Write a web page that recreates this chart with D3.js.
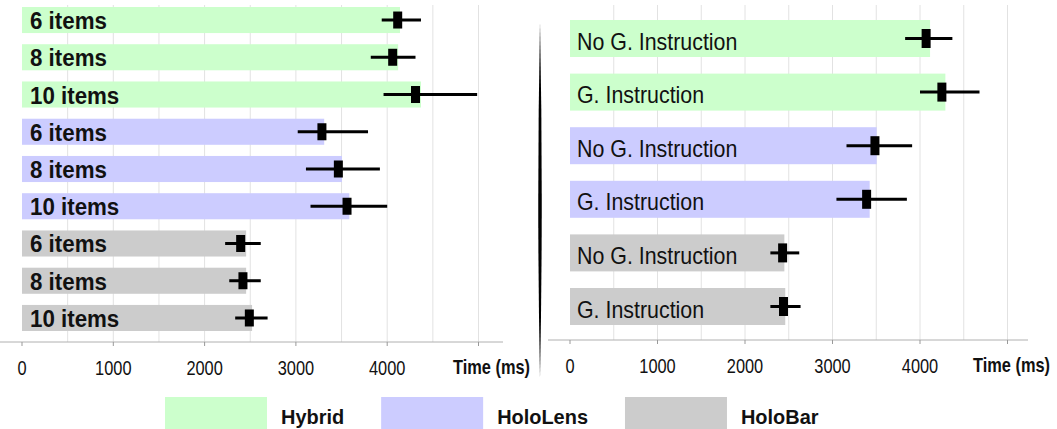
<!DOCTYPE html>
<html>
<head>
<meta charset="utf-8">
<script src="https://cdn.jsdelivr.net/npm/d3@7"></script>
<style>
  html, body { margin: 0; padding: 0; background: #fff; }
  svg { display: block; font-family: "Liberation Sans", Arial, sans-serif; }
</style>
</head>
<body>
<div class="chart"></div>
<script>
// devices / legend
const devices = ["Hybrid", "HoloLens", "HoloBar"];
const deviceColors = ["#ccffcc", "#ccccff", "#cccccc"];

// left panel: number of items
const itemLabels = ["6 items", "8 items", "10 items"];
const itemMean = [[4140, 4120, 4370], [3310, 3505, 3585], [2455, 2455, 2520]];
const itemMarker = [[4115, 4060, 4310], [3285, 3465, 3560], [2395, 2420, 2490]];
const itemLow = [[3940, 3820, 3960], [3020, 3110, 3160], [2225, 2270, 2335]];
const itemHigh = [[4370, 4310, 4985], [3790, 3920, 4000], [2615, 2615, 2690]];

// right panel: gesture instruction
const instrLabels = ["No G. Instruction", "G. Instruction"];
const instrMean = [[4115, 4290], [3505, 3425], [2450, 2460]];
const instrMarker = [[4070, 4250], [3485, 3390], [2430, 2440]];
const instrLow = [[3830, 4000], [3160, 3045], [2290, 2290]];
const instrHigh = [[4370, 4680], [3910, 3850], [2620, 2635]];

// axis
const tickValues = [0, 1000, 2000, 3000, 4000, 5000];
const tickLabels = ["0", "1000", "2000", "3000", "4000"];
const gridValues = [500, 1000, 1500, 2000, 2500, 3000, 3500, 4000, 4500, 5000];
const axisTitle = "Time (ms)";

const width = 1057, height = 429;

const svg = d3.select(".chart")
  .append("svg")
  .attr("width", width)
  .attr("height", height);

// no narrow font installed -> squeeze text horizontally
function squeeze(x, y, sx) {
  return "translate(" + x + "," + y + ") scale(" + sx + ",1)";
}

// flatten rows of a panel
function buildRows(labels, mean, marker, low, high) {
  const rows = [];
  devices.forEach((dev, di) => {
    labels.forEach((lab, li) => {
      rows.push({
        key: dev + "-" + li,
        device: di,
        label: lab,
        mean: mean[di][li],
        marker: marker[di][li],
        low: low[di][li],
        high: high[di][li]
      });
    });
  });
  return rows;
}

function drawPanel(opts) {
  const rows = buildRows(opts.labels, opts.mean, opts.marker, opts.low, opts.high);

  const x = d3.scaleLinear().domain([0, 5000]).range(opts.xRange);
  const y = d3.scaleBand()
    .domain(rows.map((d) => d.key))
    .range(opts.yRange)
    .paddingInner(opts.padding)
    .paddingOuter(opts.padding / 2);

  const g = svg.append("g");

  // grid lines
  g.selectAll(".grid")
    .data(gridValues)
    .join("line")
    .attr("x1", (d) => x(d))
    .attr("x2", (d) => x(d))
    .attr("y1", 5)
    .attr("y2", opts.axisY)
    .attr("stroke", "#e2e2e2")
    .attr("stroke-width", 1);

  // bars
  g.selectAll(".bar")
    .data(rows)
    .join("rect")
    .attr("x", x(0))
    .attr("y", (d) => y(d.key))
    .attr("width", (d) => x(d.mean) - x(0))
    .attr("height", y.bandwidth())
    .attr("fill", (d) => deviceColors[d.device]);

  // labels
  g.selectAll(".label")
    .data(rows)
    .join("text")
    .attr("transform", (d) => squeeze(opts.labelX, y(d.key) + y.bandwidth() / 2 + opts.labelShift, opts.labelScale))
    .attr("font-size", opts.labelSize)
    .attr("font-weight", opts.labelWeight)
    .attr("fill", "#111")
    .text((d) => d.label);

  // error bars
  g.selectAll(".err")
    .data(rows)
    .join("line")
    .attr("x1", (d) => x(d.low))
    .attr("x2", (d) => x(d.high))
    .attr("y1", (d) => y(d.key) + y.bandwidth() / 2)
    .attr("y2", (d) => y(d.key) + y.bandwidth() / 2)
    .attr("stroke", "#000")
    .attr("stroke-width", 3);

  g.selectAll(".marker")
    .data(rows)
    .join("rect")
    .attr("x", (d) => x(d.marker) - 4.5)
    .attr("y", (d) => y(d.key) + y.bandwidth() / 2 - opts.markerH / 2)
    .attr("width", 9)
    .attr("height", opts.markerH)
    .attr("fill", "#000");

  // x axis
  g.append("line")
    .attr("x1", opts.axisExtent[0])
    .attr("x2", opts.axisExtent[1])
    .attr("y1", opts.axisY)
    .attr("y2", opts.axisY)
    .attr("stroke", "#b0b0b0")
    .attr("stroke-width", 1);

  g.selectAll(".tick")
    .data(tickValues)
    .join("line")
    .attr("x1", (d) => x(d))
    .attr("x2", (d) => x(d))
    .attr("y1", opts.axisY)
    .attr("y2", opts.axisY + 4)
    .attr("stroke", "#999");

  g.selectAll(".ticklabel")
    .data(tickLabels)
    .join("text")
    .attr("transform", (d, i) => squeeze(x(tickValues[i]), opts.axisY + 33, 0.82))
    .attr("text-anchor", "middle")
    .attr("font-size", 20)
    .attr("fill", "#111")
    .text((d) => d);

  g.append("text")
    .attr("transform", squeeze(opts.titleX, opts.axisY + 32, 0.82))
    .attr("font-size", 20)
    .attr("font-weight", "bold")
    .attr("fill", "#111")
    .text(axisTitle);
}

drawPanel({
  labels: itemLabels, mean: itemMean, marker: itemMarker, low: itemLow, high: itemHigh,
  xRange: [22, 478.5], yRange: [1.4, 336.6], padding: 0.3,
  axisY: 342, axisExtent: [0, 503], titleX: 453,
  labelX: 30, labelShift: 9, labelSize: 24, labelScale: 0.93, labelWeight: "bold", markerH: 17
});

drawPanel({
  labels: instrLabels, mean: instrMean, marker: instrMarker, low: instrLow, high: instrHigh,
  xRange: [570, 1007.5], yRange: [11.7, 333.3], padding: 0.31,
  axisY: 340, axisExtent: [548, 1028], titleX: 973,
  labelX: 577, labelShift: 11, labelSize: 23.5, labelScale: 0.91, labelWeight: "normal", markerH: 19
});

// divider between panels
svg.append("path")
  .attr("d", "M540,22 Q543.5,200 540,378 Q536.5,200 540,22 Z")
  .attr("fill", "#000");

// legend
const legend = svg.append("g");
let lx = 165;
devices.forEach((dev, i) => {
  legend.append("rect")
    .attr("x", lx)
    .attr("y", 397)
    .attr("width", 102)
    .attr("height", 34)
    .attr("fill", deviceColors[i]);
  const t = legend.append("text")
    .attr("transform", squeeze(lx + 116, 424, 0.95))
    .attr("font-size", 21)
    .attr("font-weight", "bold")
    .attr("fill", "#111")
    .text(dev);
  lx += 116 + t.node().getComputedTextLength() * 0.95 + 37;
});
</script>
</body>
</html>
